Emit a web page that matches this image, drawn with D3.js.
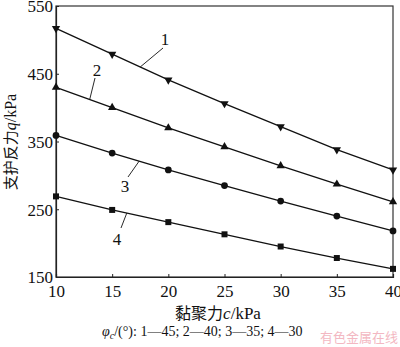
<!DOCTYPE html>
<html><head><meta charset="utf-8">
<script src="https://cdn.jsdelivr.net/npm/d3@7/dist/d3.min.js"></script>
<style>body{margin:0;background:#fff}svg{display:block}</style>
</head><body>
<script>
const cohesion = [10, 15, 20, 25, 30, 35, 40];
const series1 = [517, 479, 441, 406, 372, 338, 308];
const series2 = [430, 400, 370, 342, 314, 287, 261];
const series3 = [359, 333, 308, 285, 262, 240, 218];
const series4 = [269, 249, 231, 213, 195, 178, 162];
const seriesNames = ["1", "2", "3", "4"];
const xTicks = [10, 15, 20, 25, 30, 35, 40];
const yTicks = [150, 250, 350, 450, 550];

const W = 400, H = 347;
const svg = d3.select("body").append("svg").attr("width", W).attr("height", H);
const x = d3.scaleLinear().domain([10, 40]).range([56, 393]);
const y = d3.scaleLinear().domain([150, 550]).range([277, 6]);
const serif = "'Liberation Serif','Times New Roman',serif";

svg.append("rect").attr("x", 56).attr("y", 6).attr("width", 337).attr("height", 271)
  .attr("fill", "none").attr("stroke", "#333").attr("stroke-width", 1.2);

const xa = svg.append("g").attr("transform", "translate(0,277)")
  .call(d3.axisBottom(x).tickValues(xTicks).tickSize(-3).tickPadding(6).tickFormat(d3.format("d")));
const ya = svg.append("g").attr("transform", "translate(56,0)")
  .call(d3.axisLeft(y).tickValues(yTicks).tickSize(-3).tickPadding(3).tickFormat(d3.format("d")));
[xa, ya].forEach(a => {
  a.select(".domain").attr("stroke", "#222").attr("stroke-width", 1.2);
  a.selectAll(".tick line").attr("stroke", "#222");
  a.selectAll("text").attr("font-family", serif).attr("font-size", 17).attr("fill", "#111");
});
xa.selectAll("text").attr("dy", "0.85em");
ya.selectAll("text").attr("dy", "0.35em");

const all = [series1, series2, series3, series4];
const line = d3.line().x((d, i) => x(cohesion[i])).y(d => y(d));
all.forEach(s => {
  svg.append("path").attr("d", line(s)).attr("fill", "none").attr("stroke", "#111").attr("stroke-width", 1.3);
});
const shapes = [
  () => d3.symbol().type(d3.symbolTriangle).size(30)(),
  () => d3.symbol().type(d3.symbolTriangle).size(30)(),
  () => d3.symbol().type(d3.symbolCircle).size(36)(),
  () => d3.symbol().type(d3.symbolSquare).size(36)()
];
all.forEach((s, k) => {
  svg.append("g").selectAll("path").data(s).join("path")
    .attr("d", shapes[k])
    .attr("transform", (d, i) => `translate(${x(cohesion[i])},${y(d)})` + (k === 0 ? " rotate(180)" : ""))
    .attr("fill", "#111");
});

const ann = [
  {s: 0, cx: 17.5, tx: 163, ty: 48, lx: 165, ly: 45},
  {s: 1, cx: 13, tx: 95, ty: 78, lx: 97, ly: 76},
  {s: 2, cx: 17.4, tx: 128, ty: 177, lx: 125, ly: 192},
  {s: 3, cx: 16.3, tx: 121, ty: 228, lx: 117, ly: 245}
];
ann.forEach(a => {
  const i0 = Math.floor((a.cx - 10) / 5), t = (a.cx - cohesion[i0]) / 5;
  const v = all[a.s][i0] * (1 - t) + all[a.s][i0 + 1] * t;
  svg.append("line").attr("x1", x(a.cx)).attr("y1", y(v)).attr("x2", a.tx).attr("y2", a.ty)
    .attr("stroke", "#111").attr("stroke-width", 0.9);
  svg.append("text").attr("x", a.lx).attr("y", a.ly).attr("text-anchor", "middle")
    .attr("font-family", serif).attr("font-size", 17).attr("fill", "#111").text(seriesNames[a.s]);
});

const xt = svg.append("text").attr("x", 218).attr("y", 319).attr("text-anchor", "middle")
  .attr("font-family", serif).attr("font-size", 17).attr("fill", "#111");
xt.append("tspan").attr("font-family", "'Noto Sans CJK SC'").attr("font-size", 16).text("黏聚力");
xt.append("tspan").attr("font-style", "italic").text("c");
xt.append("tspan").text("/kPa");

const yt = svg.append("text").attr("transform", "translate(16,142) rotate(-90)").attr("text-anchor", "middle")
  .attr("font-family", serif).attr("font-size", 16).attr("fill", "#111");
yt.append("tspan").attr("font-family", "'Noto Sans CJK SC'").attr("font-size", 15).text("支护反力");
yt.append("tspan").attr("font-style", "italic").text("q");
yt.append("tspan").text("/kPa");

const cap = svg.append("text").attr("x", 102).attr("y", 336)
  .attr("font-family", serif).attr("font-size", 14).attr("fill", "#111");
cap.append("tspan").attr("font-style", "italic").text("φ");
cap.append("tspan").attr("font-style", "italic").attr("font-size", 10).attr("dy", 3).text("c");
cap.append("tspan").attr("dy", -3).text("/(°): 1—45; 2—40; 3—35; 4—30");

svg.append("text").attr("x", 398).attr("y", 342).attr("text-anchor", "end")
  .attr("font-family", "'Noto Sans CJK SC'").attr("font-size", 13).attr("fill", "#f3b8c2").text("有色金属在线");
</script>
</body></html>
